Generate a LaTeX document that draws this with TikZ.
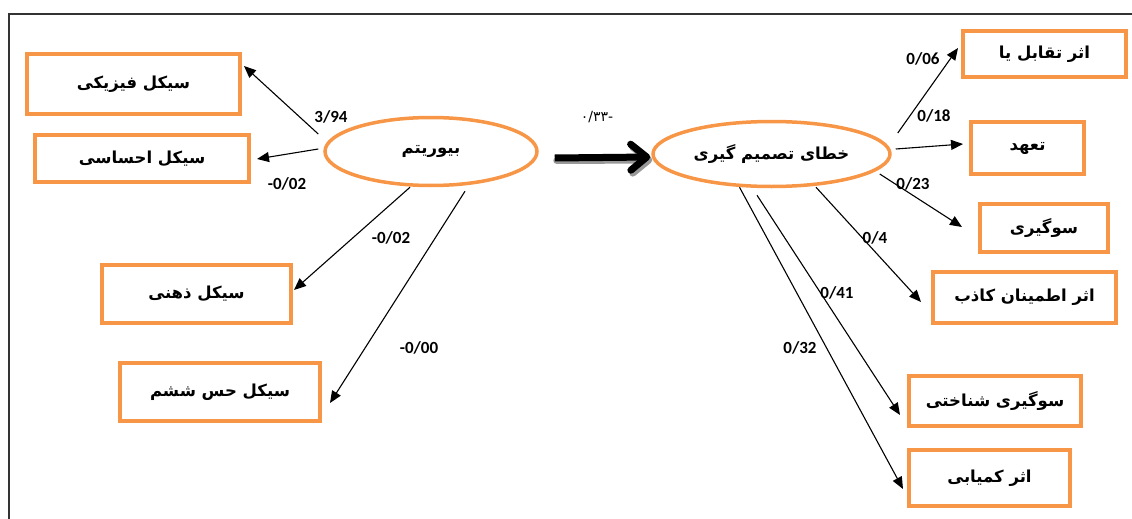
\documentclass[tikz,border=0pt]{standalone}
\usepackage{fontspec}
\usetikzlibrary{arrows.meta,shapes.geometric,calc}
\TeXXeTstate=1
\newfontfamily\arabicfont[Script=Arabic]{DejaVu Sans}
\newfontfamily\numfont{Carlito}
\newfontfamily\pdigfont{DejaVu Sans}
\definecolor{boxorange}{HTML}{F79646}
\begin{document}
\begin{tikzpicture}[x=1pt,y=-1pt,
  box/.style={draw=boxorange, line width=4pt, inner sep=0pt,
    font=\arabicfont\bfseries\fontsize{16.5}{19}\selectfont},
  oval/.style={ellipse, draw=boxorange, line width=3.5pt, inner sep=0pt,
    font=\arabicfont\bfseries\fontsize{16.5}{19}\selectfont},
  conn/.style={draw=black, line width=1.1pt, -{Triangle[length=12pt,width=10pt]}},
  lbl/.style={font=\numfont\bfseries\fontsize{17}{20}\selectfont, inner sep=0pt},
  frame/.style={draw=black!80, line width=1.6pt}
]
\useasboundingbox (0,0) rectangle (1132,519);
\draw[frame] (9,525) -- (9,14) -- (1140,14);

% ellipses
\node[oval, minimum width=212pt, minimum height=68pt] (B) at (431,151.5) {\beginR بیوریتم\endR};
\node[oval, minimum width=237pt, minimum height=65pt] (D) at (771.5,154) {\beginR خطای تصمیم گیری\endR};

% left boxes
\node[box, minimum width=213pt, minimum height=60pt] (phys) at (133.5,84) {\beginR سیکل فیزیکی\endR};
\node[box, minimum width=214pt, minimum height=47pt] (ehs) at (142,158.5) {\beginR سیکل احساسی\endR};
\node[box, minimum width=189pt, minimum height=58pt] (zehni) at (196.5,294) {\beginR سیکل ذهنی\endR};
\node[box, minimum width=200pt, minimum height=58pt] (hess) at (220,392) {\beginR سیکل حس ششم\endR};

% right boxes
\node[box, minimum width=163pt, minimum height=46pt] (taq) at (1044.5,54) {\beginR اثر تقابل یا\endR};
\node[box, minimum width=113pt, minimum height=52pt] (taa) at (1027.5,148) {\beginR تعهد\endR};
\node[box, minimum width=128pt, minimum height=48pt] (sug) at (1044,228) {\beginR سوگیری\endR};
\node[box, minimum width=183pt, minimum height=51pt] (etm) at (1024.5,297.5) {\beginR اثر اطمینان کاذب\endR};
\node[box, minimum width=172pt, minimum height=50pt] (shn) at (995,401) {\beginR سوگیری شناختی\endR};
\node[box, minimum width=161pt, minimum height=56pt] (kam) at (989.5,478) {\beginR اثر کمیابی\endR};

% left connectors
\draw[conn] ($(B.west)+(-5,-17.5)$) -- ($(phys.north east)+(2,14)$);
\draw[conn] ($(B.west)+(-5,-2.5)$) -- ($(ehs.east)+(6,0.5)$);
\draw[conn] ($(B.south)+(-21,0)$) -- ($(zehni.east)+(1,-4)$);
\draw[conn] ($(B.south)+(34,4)$) -- ($(hess.east)+(8,11)$);

% right connectors
\draw[conn] ($(D.east)+(6,-21)$) -- ($(taq.west)+(-3,-6)$);
\draw[conn] ($(D.east)+(4,-5)$) -- ($(taa.west)+(-6,-4)$);
\draw[conn] ($(D.east)+(-12,20)$) -- ($(sug.west)+(-16,-1)$);
\draw[conn] ($(D.south)+(44.5,-1)$) -- ($(etm.west)+(-10,4.5)$);
\draw[conn] ($(D.south)+(-14.5,7)$) -- ($(shn.west)+(-7,14)$);
\draw[conn] ($(D.south)+(-32,-1)$) -- ($(kam.west)+(-4,11)$);

% thick arrow with shadow
\draw[black!40, line width=7pt, line cap=round, -{Straight Barb[length=16pt,width=26pt,line cap=round,line join=round]}]
  ($(B.east)+(18,9)$) -- ($(D.west)+(1,6)$);
\draw[black, line width=7pt, -{Straight Barb[length=16pt,width=26pt,line cap=round,line join=round]}]
  ($(B.east)+(16,6.5)$) -- ($(D.west)+(-1,3)$);

% labels
\node[lbl] (l1) at (331,117) {3/94};
\node[lbl] (l2) at (287,184) {-0/02};
\node[lbl] (l3) at (391,238) {-0/02};
\node[lbl] (l4) at (419,348) {-0/00};
\node[lbl] (r1) at (923,59) {0/06};
\node[lbl] (r2) at (934,116) {0/18};
\node[lbl] (r3) at (913,184) {0/23};
\node[lbl] (r4) at (875,238) {0/4};
\node[lbl] (r5) at (837,293) {0/41};
\node[lbl] (r6) at (800,348) {0/32};
\node[font=\pdigfont\fontsize{14}{16}\selectfont, inner sep=0pt] (m) at (597,117) {۰/۳۳-};
\end{tikzpicture}
\end{document}
